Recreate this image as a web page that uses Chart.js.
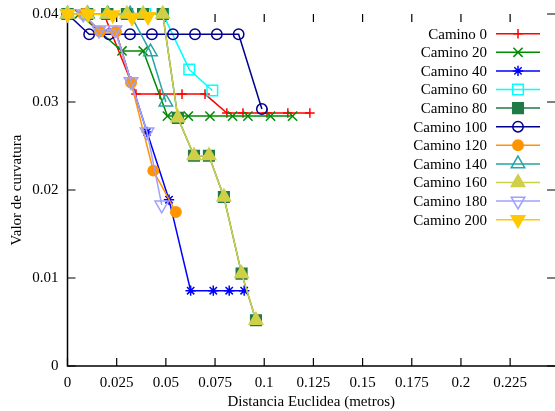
<!DOCTYPE html>
<html><head><meta charset="utf-8">
<script src="https://cdn.jsdelivr.net/npm/chart.js@4.4.1/dist/chart.umd.min.js"></script>
<style>html,body{margin:0;padding:0;background:#fff;}#wrap{width:555px;height:411px;}</style>
</head><body><div id="wrap"><canvas id="c" width="555" height="411"></canvas></div>
<script>
// ---- data ----
const seriesNames = ['Camino 0','Camino 20','Camino 40','Camino 60','Camino 80','Camino 100','Camino 120','Camino 140','Camino 160','Camino 180','Camino 200'];
const c0x   = [0, 0.0095, 0.0185, 0.0348, 0.0470, 0.0582, 0.0699, 0.0810, 0.0892, 0.1014, 0.1120, 0.1232];
const c0y   = [0.04, 0.04, 0.04, 0.0309, 0.0309, 0.0309, 0.0309, 0.02875, 0.02875, 0.02875, 0.02875, 0.02875];
const c20x  = [0, 0.006, 0.0277, 0.0385, 0.0508, 0.0614, 0.0724, 0.0839, 0.0917, 0.1032, 0.1144];
const c20y  = [0.04, 0.04, 0.0358, 0.0358, 0.0284, 0.0284, 0.0284, 0.0284, 0.0284, 0.0284, 0.0284];
const c40x  = [0, 0.008, 0.0165, 0.0246, 0.0323, 0.0404, 0.0516, 0.0626, 0.0741, 0.0822, 0.0898];
const c40y  = [0.04, 0.04, 0.038, 0.038, 0.0323, 0.0266, 0.0189, 0.00856, 0.00856, 0.00856, 0.00856];
const c60x  = [0, 0.0102, 0.0205, 0.0305, 0.0395, 0.0485, 0.0619, 0.0736];
const c60y  = [0.04, 0.04, 0.04, 0.04, 0.04, 0.04, 0.0337, 0.0313];
const c80x  = [0, 0.0099, 0.0201, 0.0302, 0.0384, 0.0484, 0.0561, 0.0643, 0.0719, 0.0795, 0.0885, 0.0958];
const c80y  = [0.04, 0.04, 0.04, 0.04, 0.04, 0.04, 0.0282, 0.0239, 0.0239, 0.0192, 0.0105, 0.0052];
const c100x = [0, 0.011, 0.0211, 0.0318, 0.0429, 0.0536, 0.0648, 0.0759, 0.087, 0.0988];
const c100y = [0.04, 0.0377, 0.0377, 0.0377, 0.0377, 0.0377, 0.0377, 0.0377, 0.0377, 0.0292];
const c120x = [0, 0.008, 0.0165, 0.0246, 0.0323, 0.0436, 0.0551];
const c120y = [0.04, 0.04, 0.038, 0.038, 0.0322, 0.0222, 0.0175];
const c140x = [0, 0.0102, 0.0205, 0.0318, 0.0422, 0.0500];
const c140y = [0.04, 0.04, 0.04, 0.04, 0.0357, 0.0300];
const c160x = [0, 0.0099, 0.0201, 0.0302, 0.0384, 0.0484, 0.0561, 0.0643, 0.0719, 0.0795, 0.0885, 0.0958];
const c160y = [0.04, 0.04, 0.04, 0.04, 0.04, 0.04, 0.0282, 0.0239, 0.0239, 0.0192, 0.0105, 0.0052];
const c180x = [0, 0.008, 0.016, 0.0241, 0.0323, 0.0404, 0.0479];
const c180y = [0.04, 0.04, 0.0382, 0.0382, 0.0323, 0.0266, 0.0183];
const c200x = [0, 0.0104, 0.0230, 0.0328, 0.0409];
const c200y = [0.04, 0.04, 0.0399, 0.0396, 0.0397];
const xTickValues = [0, 0.025, 0.05, 0.075, 0.1, 0.125, 0.15, 0.175, 0.2, 0.225];
const yTickValues = [0, 0.01, 0.02, 0.03, 0.04];

const seriesX = [c0x,c20x,c40x,c60x,c80x,c100x,c120x,c140x,c160x,c180x,c200x];
const seriesY = [c0y,c20y,c40y,c60y,c80y,c100y,c120y,c140y,c160y,c180y,c200y];

// ---- styles ----
const colors  = ['#ff0000','#008a00','#0000ff','#00ffff','#1f7a45','#00008f','#ff9400','#25a5a5','#cfcf48','#a0a0ff','#ffc800'];
const shapes  = ['cross','crossRot','star','rect','rect','circle','circle','triangle','triangle','triangle','triangle'];
const filled  = [false,false,false,false,true,false,true,false,true,false,true];
const rots    = [0,0,0,0,0,0,0,0,0,180,180];
const radii   = [4.8,6.5,5.2,7.5,7.5,5.2,5.2,7.8,7.8,7.8,7.8];

const FONT = '"Liberation Serif", "Times New Roman", serif';

const datasets = seriesNames.map((name,i)=>({
  label: name,
  data: seriesX[i].map((v,k)=>({x:v, y:seriesY[i][k]})),
  borderColor: colors[i],
  backgroundColor: colors[i],
  borderWidth: 1.5,
  pointStyle: shapes[i],
  pointRadius: radii[i],
  pointRotation: rots[i],
  pointBorderColor: colors[i],
  pointBackgroundColor: filled[i] ? colors[i] : 'rgba(0,0,0,0)',
  pointBorderWidth: 1.5,
  tension: 0,
  fill: false,
  clip: false,
  order: seriesNames.length - i
}));

const framePlugin = {
  id: 'frame',
  beforeDatasetsDraw(chart){
    const {ctx, chartArea:a, scales:{x,y}} = chart;
    ctx.save();
    ctx.strokeStyle = '#000';
    ctx.lineWidth = 1.5;
    ctx.beginPath();
    ctx.moveTo(a.left, a.top); ctx.lineTo(a.left, a.bottom); ctx.lineTo(a.right, a.bottom);
    ctx.stroke();
    ctx.lineWidth = 1.2;
    ctx.beginPath();
    x.ticks.forEach(t=>{ const p = x.getPixelForValue(t.value);
      ctx.moveTo(p, a.bottom); ctx.lineTo(p, a.bottom-8);
      ctx.moveTo(p, a.top); ctx.lineTo(p, a.top+8); });
    y.ticks.forEach(t=>{ const p = y.getPixelForValue(t.value);
      ctx.moveTo(a.left, p); ctx.lineTo(a.left+8, p);
      ctx.moveTo(a.right, p); ctx.lineTo(a.right-8, p); });
    ctx.stroke();
    ctx.restore();
  }
};

const legendPlugin = {
  id: 'gpLegend',
  afterDraw(chart){
    const {ctx, chartArea:a} = chart;
    ctx.save();
    ctx.font = '15px ' + FONT;
    ctx.textAlign = 'right';
    ctx.textBaseline = 'middle';
    chart.data.datasets.forEach((ds,i)=>{
      const yy = a.top + 19.7 + i*18.6;
      ctx.fillStyle = '#000';
      ctx.fillText(ds.label, a.right-68, yy+1);
      ctx.strokeStyle = ds.borderColor; ctx.lineWidth = ds.borderWidth;
      ctx.beginPath(); ctx.moveTo(a.right-59, yy); ctx.lineTo(a.right-15, yy); ctx.stroke();
      ctx.fillStyle = ds.pointBackgroundColor; ctx.strokeStyle = ds.pointBorderColor; ctx.lineWidth = ds.pointBorderWidth;
      if (Chart.helpers && Chart.helpers.drawPoint) {
        Chart.helpers.drawPoint(ctx, {pointStyle: ds.pointStyle, radius: ds.pointRadius, rotation: ds.pointRotation, borderWidth: ds.pointBorderWidth}, a.right-37, yy);
      }
    });
    ctx.restore();
  }
};

const fmt = v => String(parseFloat(Number(v).toFixed(4)));

new Chart(document.getElementById('c'), {
  type: 'line',
  data: { datasets },
  plugins: [framePlugin, legendPlugin],
  options: {
    responsive: false,
    animation: false,
    devicePixelRatio: 1,
    events: [],
    layout: { autoPadding: false, padding: { top: 14, right: 0, left: 0, bottom: 0 } },
    plugins: { legend: { display: false }, tooltip: { enabled: false } },
    scales: {
      x: {
        type: 'linear', min: 0, max: 0.2478,
        afterBuildTicks(s){ s.ticks = xTickValues.map(v=>({value:v})); },
        afterFit(s){ s.height = 45; s.paddingLeft = 0; s.paddingRight = 0; s.paddingTop = 0; s.paddingBottom = 0; },
        grid: { display: false, drawTicks: false },
        border: { display: false },
        ticks: { padding: 8, color: '#000', font: { family: FONT, size: 15 }, callback: fmt, maxRotation: 0, autoSkip: false },
        title: { display: true, text: 'Distancia Euclidea (metros)', color: '#000', font: { family: FONT, size: 15 }, padding: { top: 0, bottom: 0 } }
      },
      y: {
        type: 'linear', min: 0, max: 0.04,
        afterBuildTicks(s){ s.ticks = yTickValues.map(v=>({value:v})); },
        afterFit(s){ s.width = 67.5; s.paddingLeft = 0; s.paddingRight = 0; s.paddingTop = 0; s.paddingBottom = 0; },
        grid: { display: false, drawTicks: false },
        border: { display: false },
        ticks: { padding: 9, color: '#000', font: { family: FONT, size: 15 }, callback: fmt, autoSkip: false },
        title: { display: true, text: 'Valor de curvatura', color: '#000', font: { family: FONT, size: 15 }, padding: { top: 8, bottom: 0 } }
      }
    }
  }
});
</script>
</body></html>
